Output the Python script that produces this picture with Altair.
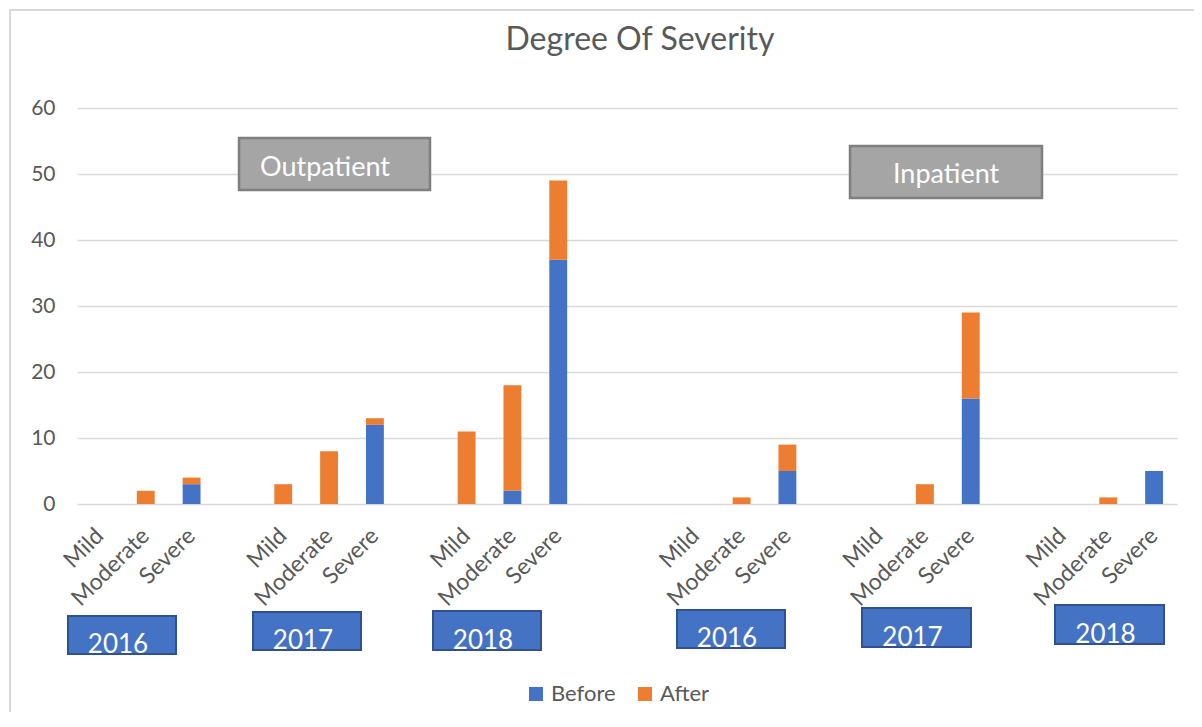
import altair as alt
import pandas as pd

# ---- data ----
settings = ["Outpatient"] * 9 + ["Inpatient"] * 9
years = ["2016"] * 3 + ["2017"] * 3 + ["2018"] * 3
years = years + years
severities = ["Mild", "Moderate", "Severe"] * 6
before = [0, 0, 3, 0, 0, 12, 0, 2, 37, 0, 0, 5, 0, 0, 16, 0, 0, 5]
after = [0, 2, 1, 3, 8, 1, 11, 16, 12, 0, 1, 4, 0, 3, 13, 0, 1, 0]
series = ["Before", "After"]
y_ticks = [0, 10, 20, 30, 40, 50, 60]

keys = [f"{s}|{y}|{v}" for s, y, v in zip(settings, years, severities)]

rows = []
for k, b, a in zip(keys, before, after):
    rows.append({"key": k, "series": "Before", "rank": 0, "value": b})
    rows.append({"key": k, "series": "After", "rank": 1, "value": a})
df = pd.DataFrame(rows)

# category domain with empty spacer slots between year groups
domain = []
gap_after = {2: 1, 5: 1, 8: 2, 11: 1, 14: 1}
g = 0
for i, k in enumerate(keys):
    domain.append(k)
    for _ in range(gap_after.get(i, 0)):
        g += 1
        domain.append(f"gap{g}")

FONT = "Lato"
GREY = "#595959"

bars = alt.Chart(df).mark_bar().encode(
    x=alt.X("key:N", scale=alt.Scale(domain=domain, paddingInner=0.61, paddingOuter=0.305),
            axis=alt.Axis(title=None, labelAngle=-45, labelAlign="right", labelBaseline="middle",
                          labelPadding=28, ticks=False, domain=False, grid=False,
                          labelFontSize=23, labelColor=GREY, labelFont=FONT,
                          labelExpr="indexof(datum.label, '|') >= 0 ? split(datum.label, '|')[2] : ''")),
    y=alt.Y("value:Q", stack="zero", scale=alt.Scale(domain=[0, 60], nice=False),
            axis=alt.Axis(title=None, values=y_ticks, ticks=False, domain=False,
                          labelPadding=22, labelFontSize=21, labelColor=GREY, labelFont=FONT,
                          gridColor="#D9D9D9", gridWidth=1.5)),
    color=alt.Color("series:N", scale=alt.Scale(domain=series, range=["#4472C4", "#ED7D31"]),
                    legend=alt.Legend(title=None, orient="none", legendX=448, legendY=575,
                                      direction="horizontal", symbolType="square", symbolSize=196,
                                      symbolStrokeWidth=0, labelFontSize=22, labelColor=GREY,
                                      labelFont=FONT, columnPadding=18, labelOffset=4)),
    order=alt.Order("rank:Q", sort="ascending"),
)

one = pd.DataFrame({"d": [0]})

layers = []
# outer chart border
layers.append(alt.Chart(one).mark_rect(fill=None, stroke="#D9D9D9", strokeWidth=2).encode(
    x=alt.value(-67), x2=alt.value(1200), y=alt.value(-98), y2=alt.value(700)))
layers.append(bars)

# title
layers.append(alt.Chart(one).mark_text(font=FONT, fontSize=32, color=GREY, align="center",
                                        baseline="alphabetic").encode(
    x=alt.value(563), y=alt.value(-58), text=alt.value("Degree Of Severity")))

# setting boxes
for (x1, y1, x2, y2, tx, ty, label) in [
    (162, 30, 353, 82, 183, 68, "Outpatient"),
    (773, 38, 965, 90, 816, 75, "Inpatient"),
]:
    layers.append(alt.Chart(one).mark_rect(fill="#A5A5A5", stroke="#7F7F7F", strokeWidth=2.5).encode(
        x=alt.value(x1), x2=alt.value(x2), y=alt.value(y1), y2=alt.value(y2)))
    layers.append(alt.Chart(one).mark_text(font=FONT, fontSize=27, color="white", align="left",
                                            baseline="alphabetic").encode(
        x=alt.value(tx), y=alt.value(ty), text=alt.value(label)))

# year boxes
for (x1, x2, y1, y2, label) in [
    (-9, 99, 508, 546, "2016"),
    (176, 284, 504, 542, "2017"),
    (356, 464, 503, 542, "2018"),
    (600, 708, 502, 540, "2016"),
    (785, 894, 500, 539, "2017"),
    (978, 1087, 497, 536, "2018"),
]:
    layers.append(alt.Chart(one).mark_rect(fill="#4472C4", stroke="#2F528F", strokeWidth=2).encode(
        x=alt.value(x1), x2=alt.value(x2), y=alt.value(y1), y2=alt.value(y2)))
    layers.append(alt.Chart(one).mark_text(font=FONT, fontSize=26, color="white", align="center",
                                            baseline="alphabetic").encode(
        x=alt.value((x1 + x2) / 2 - 4), y=alt.value(y2 - 1), text=alt.value(label)))

chart = alt.layer(*layers).properties(
    width=1100, height=396, autosize="none",
    padding={"left": 69, "top": 100, "right": 17, "bottom": 208},
).configure_view(stroke=None)

chart.save("out.html", embed_options={"renderer": "svg", "actions": False})
